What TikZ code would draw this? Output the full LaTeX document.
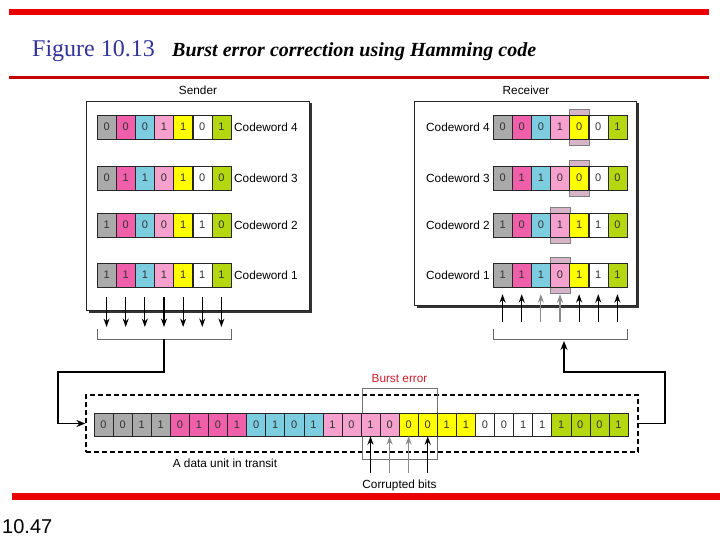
\documentclass[tikz,border=0pt]{standalone}
\usepackage{fontspec}
\setmainfont{Liberation Sans}
\newfontfamily\titlefont{Liberation Serif}
\usetikzlibrary{arrows.meta,shadows}

\definecolor{col1}{RGB}{170,170,170}
\definecolor{col2}{RGB}{240,95,170}
\definecolor{col3}{RGB}{125,205,225}
\definecolor{col4}{RGB}{245,160,205}
\definecolor{col5}{RGB}{255,255,0}
\definecolor{col6}{RGB}{255,255,255}
\definecolor{col7}{RGB}{180,215,15}
\definecolor{barred}{RGB}{235,0,0}
\definecolor{titleblue}{RGB}{51,51,153}
\definecolor{hilite}{RGB}{215,180,200}
\definecolor{burstred}{RGB}{200,30,40}

\tikzset{
  bit/.style={draw=black!85, minimum width=19.1pt, minimum height=24pt, inner sep=0pt,
    font=\fontsize{11}{12}\selectfont, text=black!80},
  tbit/.style={bit, minimum height=23pt},
  panel/.style={draw=black!85, line width=0.8pt, fill=white, inner sep=0pt,
    drop shadow={shadow xshift=2.5pt, shadow yshift=-2.5pt, fill=black!80, opacity=1}},
  lbl/.style={font=\fontsize{11.8}{13}\selectfont, inner sep=1pt},
  feed/.style={-{Stealth[length=8.5pt,width=6pt]}, line width=1.2pt},
  link/.style={line width=1.5pt},
  hbox/.style={draw=black!50, fill=hilite, minimum width=19.6pt, minimum height=36pt, inner sep=0pt},
}

\begin{document}
\begin{tikzpicture}[x=1pt,y=-1pt]
\useasboundingbox (0,0) rectangle (720,540);

% slide frame
\fill[barred] (9,9) rectangle (709,15);
\fill[barred!85!black] (9,76) rectangle (709,79);
\fill[barred] (12,493) rectangle (720,500);
\node[anchor=base west, inner sep=0pt, text=titleblue, font=\titlefont\fontsize{24}{26}\selectfont] (fig) at (32,57) {Figure 10.13};
\node[anchor=base west, inner sep=0pt, font=\titlefont\bfseries\itshape\fontsize{20}{22}\selectfont] (cap) at (172,57) {Burst error correction using Hamming code};
\node[anchor=base west, inner sep=0pt, font=\fontsize{20}{22}\selectfont] (pageno) at (2,533) {10.47};

% sender
\node[panel, minimum width=223pt, minimum height=209pt] (sender) at (197.5,205.5) {};
\node[lbl] (sendlbl) at (198,90) {Sender};
\foreach \r/\y/\bits in {4/127/{0,0,0,1,1,0,1},3/178/{0,1,1,0,1,0,0},2/225/{1,0,0,0,1,1,0},1/275/{1,1,1,1,1,1,1}}{
  \foreach \v [count=\k] in \bits
    \node[bit, fill=col\k] (s\r-\k) at ({87.43+19.14*\k},\y) {\v};
  \node[lbl, anchor=west] (scw\r) at (233,\y) {Codeword \r};
}
\foreach \k in {1,...,7}{
  \coordinate (sb\k) at ({87.43+19.14*\k},327);
  \draw[feed] ([yshift=-10pt]s1-\k.south) -- (sb\k);
}
\draw[black!60] (97,329) |- (231,339) -- (231,329);

% receiver
\node[panel, minimum width=222pt, minimum height=204pt] (receiver) at (525,203) {};
\node[lbl] (recvlbl) at (526,90) {Receiver};
\node[hbox] (h4) at ({483.43+19.14*5},127) {};
\node[hbox] (h3) at ({483.43+19.14*5},178) {};
\node[hbox] (h2) at ({483.43+19.14*4},225) {};
\node[hbox] (h1) at ({483.43+19.14*4},275) {};
\foreach \r/\y/\bits in {4/127/{0,0,0,1,0,0,1},3/178/{0,1,1,0,0,0,0},2/225/{1,0,0,1,1,1,0},1/275/{1,1,1,0,1,1,1}}{
  \foreach \v [count=\k] in \bits
    \node[bit, fill=col\k] (r\r-\k) at ({483.43+19.14*\k},\y) {\v};
  \node[lbl, anchor=east] (rcw\r) at (491,\y) {Codeword \r};
}
\foreach \k/\c in {1/black,2/black,3/black!45,4/black!45,5/black,6/black,7/black}{
  \coordinate (rb\k) at ({483.43+19.14*\k},322);
  \draw[feed, \c] (rb\k) -- ([yshift=-7pt]r1-\k.south);
}
\draw[black!60] (493,329) |- (627,339) -- (627,329);

% data unit in transit
\node[draw, dashed, line width=1.2pt, dash pattern=on 5pt off 3pt, minimum width=552pt, minimum height=57pt, inner sep=0pt] (transit) at (362,423.5) {};
\node[draw=black!55, minimum width=75pt, minimum height=71pt, inner sep=0pt] (burst) at (399.5,423.5) {};
\foreach \v [count=\k] in {0,0,1,1,0,1,0,1,0,1,0,1,1,0,1,0,0,0,1,1,0,0,1,1,1,0,0,1}{
  \pgfmathtruncatemacro\c{(\k+3)/4}
  \node[tbit, fill=col\c] (t\k) at ({94+19.07*(\k-0.5)},424.5) {\v};
}
\node[lbl, text=burstred] (burstlbl) at (399.5,378) {Burst error};
\node[lbl] (translbl) at (225,463) {A data unit in transit};
\node[lbl] (corrlbl) at (399.5,485) {Corrupted bits};
\foreach \k/\c in {15/black,16/black!45,17/black!45,18/black}{
  \coordinate (cb\k) at ({94+19.07*(\k-0.5)},473);
  \draw[feed, \c] (cb\k) -- (t\k.south);
}

% links
\coordinate (smid) at (164,339);
\coordinate (rmid) at (564,341);
\draw[link, -{Stealth[length=9pt,width=7pt]}] (smid) |- (58,372) |- (transit.west);
\draw[link, -{Stealth[length=9pt,width=7pt]}] (transit.east) -| (665,372) -| (rmid);
\end{tikzpicture}
\end{document}
